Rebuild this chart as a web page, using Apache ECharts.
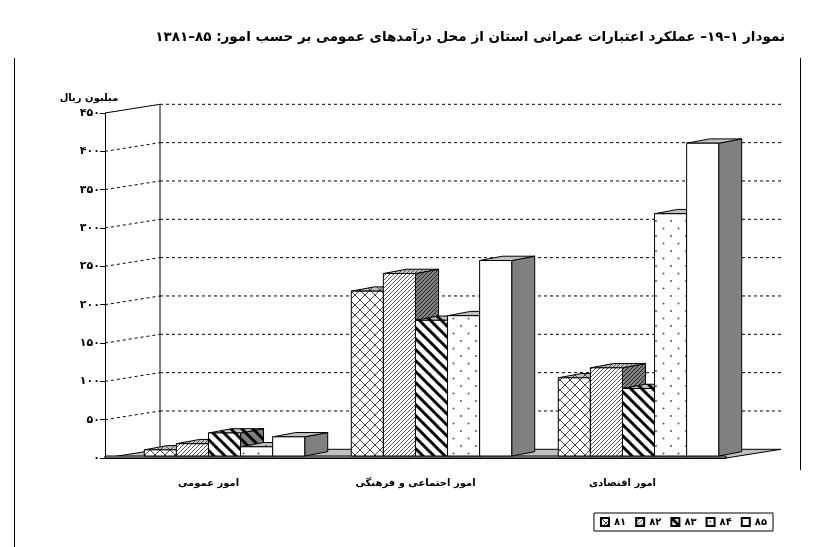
<!DOCTYPE html>
<html>
<head>
<meta charset="utf-8">
<script src="https://cdn.jsdelivr.net/npm/echarts@6/dist/echarts.min.js"></script>
<style>
  html, body { margin: 0; padding: 0; background: #fff; }
  #main { width: 815px; height: 547px; }
</style>
</head>
<body>
<div id="main" dir="rtl"></div>
<script>
// chart values (million rials)
var categories = ['امور عمومی', 'امور اجتماعی و فرهنگی', 'امور اقتصادی']
var years = ['۸۱', '۸۲', '۸۳', '۸۴', '۸۵']
var v81 = [8, 215, 102]
var v82 = [16, 238, 115]
var v83 = [30, 177, 88]
var v84 = [12, 183, 316]
var v85 = [25, 255, 408]
var yTicks = [0, 50, 100, 150, 200, 250, 300, 350, 400, 450]
var yTickLabels = ['۰', '۵۰', '۱۰۰', '۱۵۰', '۲۰۰', '۲۵۰', '۳۰۰', '۳۵۰', '۴۰۰', '۴۵۰']

var fontFa = "'DejaVu Sans', sans-serif"

// wall depth and bar depth (3d look)
var WALL = { x: 55, y: -8.7 }
var BAR = { x: 23, y: -4.3 }
var FRONT_SHIFT = { x: 16, y: -2 }

function makePattern(type, bg, fg) {
  var sizes = { cross: [10, 10], fine: [4, 4], thick: [11, 11], dots: [15, 15], plain: [4, 4] }
  var c = document.createElement('canvas')
  c.width = sizes[type][0]
  c.height = sizes[type][1]
  var ctx = c.getContext('2d')
  ctx.fillStyle = bg
  ctx.fillRect(0, 0, c.width, c.height)
  ctx.strokeStyle = fg
  ctx.fillStyle = fg
  if (type === 'cross') {
    ctx.lineWidth = 1
    ctx.beginPath()
    ctx.moveTo(-1, -1); ctx.lineTo(11, 11)
    ctx.moveTo(11, -1); ctx.lineTo(-1, 11)
    ctx.stroke()
  } else if (type === 'fine') {
    ctx.lineWidth = 1
    ctx.beginPath()
    ctx.moveTo(-1, 5); ctx.lineTo(5, -1)
    ctx.moveTo(-1, 1); ctx.lineTo(1, -1)
    ctx.moveTo(3, 5); ctx.lineTo(5, 3)
    ctx.stroke()
  } else if (type === 'thick') {
    ctx.lineWidth = 3
    ctx.beginPath()
    for (var k = -1; k <= 1; k++) {
      ctx.moveTo(-2, k * 11 - 2)
      ctx.lineTo(13, 13 + k * 11)
    }
    ctx.stroke()
  } else if (type === 'dots') {
    ctx.beginPath()
    ctx.arc(3.5, 3.5, 1, 0, Math.PI * 2)
    ctx.arc(11, 11, 1, 0, Math.PI * 2)
    ctx.fill()
  }
  return { image: c, repeat: 'repeat' }
}

var faces = [
  { front: makePattern('cross', '#fff', '#444'), top: makePattern('cross', '#c0c0c0', '#444'), side: makePattern('cross', '#808080', '#222') },
  { front: makePattern('fine', '#fff', '#555'), top: makePattern('fine', '#c0c0c0', '#555'), side: makePattern('fine', '#808080', '#222') },
  { front: makePattern('thick', '#fff', '#000'), top: makePattern('thick', '#c0c0c0', '#000'), side: makePattern('thick', '#808080', '#000') },
  { front: makePattern('dots', '#fff', '#555'), top: makePattern('dots', '#c0c0c0', '#555'), side: makePattern('dots', '#808080', '#333') },
  { front: '#fff', top: '#c0c0c0', side: '#808080' }
]

var seriesValues = [v81, v82, v83, v84, v85]

function barRenderer(idx) {
  return function (params, api) {
    var cat = api.value(0)
    var base = api.coord([cat, 0])
    var top = api.coord([cat, api.value(1)])
    var bw = api.size([1, 0])[0] * 0.155
    var x0 = base[0] + FRONT_SHIFT.x - 2.5 * bw + idx * bw
    var x1 = x0 + bw
    var y0 = base[1] + FRONT_SHIFT.y
    var y1 = top[1] + FRONT_SHIFT.y
    var f = faces[idx]
    var line = { stroke: '#000', lineWidth: 1 }
    return {
      type: 'group',
      children: [
        { type: 'polygon', shape: { points: [[x1, y1], [x1 + BAR.x, y1 + BAR.y], [x1 + BAR.x, y0 + BAR.y], [x1, y0]] }, style: Object.assign({ fill: f.side }, line) },
        { type: 'polygon', shape: { points: [[x0, y1], [x1, y1], [x1 + BAR.x, y1 + BAR.y], [x0 + BAR.x, y1 + BAR.y]] }, style: Object.assign({ fill: f.top }, line) },
        { type: 'rect', shape: { x: x0, y: y1, width: bw, height: y0 - y1 }, style: Object.assign({ fill: f.front }, line) }
      ]
    }
  }
}

function frameRenderer(params, api) {
  var v = api.value(0)
  var cs = params.coordSys
  var left = cs.x
  var right = cs.x + cs.width
  var y = api.coord([0, v])[1]
  var y0 = api.coord([0, 0])[1]
  var dash = { stroke: '#000', lineWidth: 1, lineDash: [3, 3] }
  var children = []
  if (v === 0) {
    children.push({ type: 'polygon', shape: { points: [[left, y], [left + WALL.x, y + WALL.y], [right + WALL.x, y + WALL.y], [right, y]] }, style: { fill: '#c0c0c0', stroke: '#000', lineWidth: 1 } })
    children.push({ type: 'rect', shape: { x: left, y: y - 2, width: right - left, height: 2 }, style: { fill: '#c0c0c0', stroke: '#000', lineWidth: 1 } })
    return { type: 'group', children: children }
  }
  var slope = v === yTicks[yTicks.length - 1] ? { stroke: '#000', lineWidth: 1 } : dash
  children.push({ type: 'line', shape: { x1: left, y1: y, x2: left + WALL.x, y2: y + WALL.y }, style: slope })
  children.push({ type: 'line', shape: { x1: left + WALL.x, y1: y + WALL.y, x2: right + WALL.x, y2: y + WALL.y }, style: dash })
  if (v === yTicks[yTicks.length - 1]) {
    children.push({ type: 'line', shape: { x1: left + WALL.x, y1: y + WALL.y, x2: left + WALL.x, y2: y0 + WALL.y }, style: { stroke: '#000', lineWidth: 1 } })
  }
  return { type: 'group', children: children }
}

var chart = echarts.init(document.getElementById('main'))

var series = [{
  name: 'frame',
  type: 'custom',
  z: 1,
  silent: true,
  renderItem: frameRenderer,
  data: yTicks.map(function (t) { return [t] }),
  encode: { y: 0 }
}]

years.forEach(function (yr, i) {
  series.push({
    name: yr,
    type: 'custom',
    z: 2,
    renderItem: barRenderer(i),
    itemStyle: { color: faces[i].front, borderColor: '#000', borderWidth: 1 },
    encode: { x: 0, y: 1 },
    data: seriesValues[i].map(function (v, c) { return [c, v] })
  })
})

chart.setOption({
  animation: false,
  textStyle: { fontFamily: fontFa },
  title: {
    text: 'نمودار ۱–۱۹– عملکرد اعتبارات عمرانی استان از محل درآمدهای عمومی بر حسب امور: ۸۵–۱۳۸۱',
    right: 25,
    top: 25,
    textStyle: { fontFamily: fontFa, fontWeight: 'bold', fontSize: 13.5, color: '#000' }
  },
  legend: {
    data: years,
    right: 42,
    top: 513,
    icon: 'rect',
    itemWidth: 8,
    itemHeight: 8,
    itemGap: 9,
    padding: [4, 6],
    borderColor: '#000',
    borderWidth: 1,
    textStyle: { fontFamily: fontFa, fontWeight: 'bold', fontSize: 10, color: '#000' }
  },
  grid: { left: 105, right: 89, top: 113, bottom: 89 },
  xAxis: {
    type: 'category',
    data: categories,
    z: 5,
    axisLine: { lineStyle: { color: '#000', width: 1 } },
    axisTick: { length: 6, lineStyle: { color: '#000' } },
    axisLabel: { margin: 20, color: '#000', fontWeight: 'bold', fontSize: 10, fontFamily: fontFa },
    splitLine: { show: false }
  },
  yAxis: {
    type: 'value',
    min: 0,
    max: 450,
    interval: 50,
    z: 5,
    name: 'میلیون ریال',
    nameLocation: 'end',
    nameGap: 10,
    nameTextStyle: { color: '#000', fontWeight: 'bold', fontSize: 10, fontFamily: fontFa, align: 'center', padding: [0, 32, 0, 0] },
    axisLine: { show: true, lineStyle: { color: '#000', width: 1 } },
    axisTick: { show: true, length: 5, lineStyle: { color: '#000' } },
    axisLabel: {
      margin: 5,
      color: '#000',
      fontWeight: 'bold',
      fontSize: 11,
      fontFamily: fontFa,
      formatter: function (v) { return yTickLabels[yTicks.indexOf(v)] }
    },
    splitLine: { show: false }
  },
  graphic: [
    { type: 'line', shape: { x1: 14.5, y1: 58, x2: 14.5, y2: 547 }, style: { stroke: '#000', lineWidth: 1 } },
    { type: 'line', shape: { x1: 800.5, y1: 58, x2: 800.5, y2: 470 }, style: { stroke: '#000', lineWidth: 1 } }
  ],
  series: series
})
</script>
</body>
</html>
